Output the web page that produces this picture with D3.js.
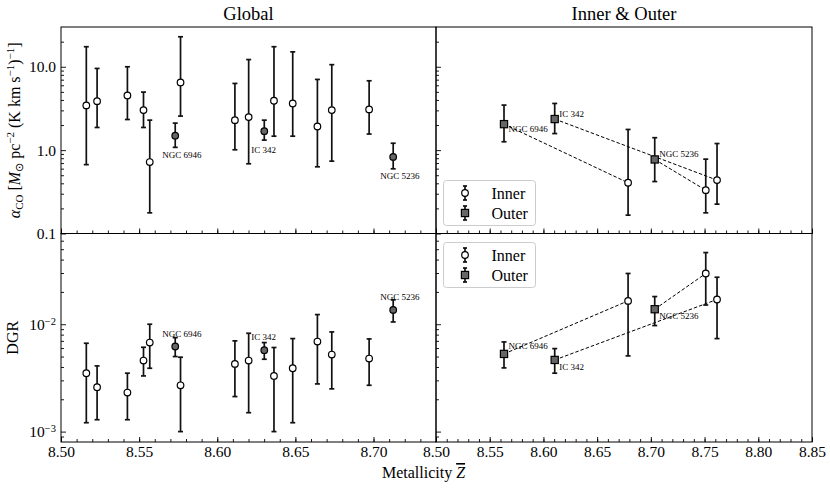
<!DOCTYPE html>
<html>
<head>
<meta charset="utf-8">
<script src="https://cdn.jsdelivr.net/npm/d3@7"></script>
<style>
  body { margin: 0; background: #fff; }
  svg text { font-family: "Liberation Serif", serif; }
</style>
</head>
<body>
<div id="chart"></div>
<script>
// ---- data ----
const globalZ = [8.5162, 8.5231, 8.5425, 8.5528, 8.5568, 8.5731, 8.5765, 8.6113,
  8.6201, 8.6301, 8.6363, 8.6483, 8.6641, 8.6733, 8.6972, 8.7126]
const globalNames = ['', '', '', '', '', 'NGC 6946', '', '', '', 'IC 342', '', '', '', '', '', 'NGC 5236']

const alphaCO = [3.44, 3.87, 4.53, 3.02, 0.72, 1.49, 6.49, 2.29, 2.49, 1.69, 3.91, 3.63, 1.92, 3.02, 3.08, 0.83]
const alphaLo = [0.67, 1.87, 2.33, 1.87, 0.177, 1.08, 2.56, 1.01, 0.686, 1.32, 1.47, 1.47, 0.631, 0.738, 1.56, 0.597]
const alphaHi = [17.4, 9.55, 10.0, 4.97, 2.29, 2.11, 22.9, 6.31, 12.2, 2.29, 17.4, 15.1, 7.05, 10.6, 6.79, 1.21]

const dgr = [0.0035, 0.00259, 0.00231, 0.00459, 0.00675, 0.0062, 0.0027, 0.00427,
  0.00459, 0.00573, 0.0033, 0.00389, 0.0069, 0.00522, 0.00479, 0.0136]
const dgrLo = [0.00121, 0.00129, 0.00129, 0.0033, 0.00389, 0.005, 0.001, 0.00212,
  0.0015, 0.00472, 0.001, 0.00121, 0.00278, 0.0025, 0.0027, 0.0105]
const dgrHi = [0.00665, 0.00409, 0.0035, 0.0061, 0.01, 0.0075, 0.00493, 0.007,
  0.00824, 0.00675, 0.00607, 0.00735, 0.0123, 0.00848, 0.0073, 0.01686]

const ioNames = ['NGC 6946', 'IC 342', 'NGC 5236']
const outerZ = [8.5633, 8.6105, 8.7036]
const innerZ = [8.6788, 8.7616, 8.7511]

const outerAlpha = [2.05, 2.36, 0.773]
const outerAlphaLo = [1.26, 1.58, 0.42]
const outerAlphaHi = [3.47, 3.63, 1.41]
const innerAlpha = [0.406, 0.437, 0.331]
const innerAlphaLo = [0.166, 0.225, 0.177]
const innerAlphaHi = [1.77, 1.2, 0.78]

const outerDGR = [0.00529, 0.00465, 0.0138]
const outerDGRLo = [0.00392, 0.0035, 0.00972]
const outerDGRHi = [0.00684, 0.00593, 0.0181]
const innerDGR = [0.0165, 0.017, 0.0297]
const innerDGRLo = [0.00507, 0.00735, 0.0151]
const innerDGRHi = [0.0297, 0.0274, 0.0465]

const globalTicks = [8.50, 8.55, 8.60, 8.65, 8.70]
const ioTicks = [8.50, 8.55, 8.60, 8.65, 8.70, 8.75, 8.80, 8.85]
const alphaTicks = [0.1, 1, 10]
const dgrTicks = [1e-3, 1e-2]

// ---- layout ----
const width = 830
const height = 488
const colL = [61, 436]
const colR = [436, 812]
const rowT = [27, 233.5]
const rowB = [233.5, 442]
const gray = '#666'
const serif = '"Liberation Serif"'

const svg = d3.select('#chart')
  .append('svg')
  .attr('width', width)
  .attr('height', height)
  .style('font-family', serif)

const xGlobal = d3.scaleLinear().domain([8.50, 8.74]).range(colL)
const xIO = d3.scaleLinear().domain([8.50, 8.85]).range(colR)
const yAlpha = d3.scaleLog().domain([0.1, 30]).range([rowT[1], rowT[0]])
const yDGR = d3.scaleLog().domain([8e-4, 0.07]).range([rowB[1], rowB[0]])

function logMinor(domain) {
  const out = []
  for (let e = -4; e <= 2; e++) {
    for (let m = 2; m <= 9; m++) {
      const v = m * Math.pow(10, e)
      if (v > domain[0] && v < domain[1]) out.push(v)
    }
  }
  return out
}

function minorX(x, step) {
  const [a, b] = x.domain()
  return d3.range(Math.round(a / step), Math.round(b / step) + 1).map(d => +(d * step).toFixed(3))
}

function styleAxis(g) {
  g.attr('font-family', null).style('font-family', serif)
  g.select('.domain').remove()
  g.selectAll('line').attr('stroke', '#000').attr('stroke-width', 0.9)
  g.selectAll('text').style('font-family', serif).style('font-size', '15.5px').attr('fill', '#000')
}

function panel(x, y, opts) {
  const [x0, x1] = x.range()
  const [y1, y0] = y.range()
  const g = svg.append('g')

  // x axis, ticks pointing inward
  const xa = g.append('g').attr('transform', `translate(0,${y1})`)
    .call(d3.axisBottom(x).tickValues(opts.xTicks).tickSize(-5).tickPadding(4)
      .tickFormat(opts.xLabels ? d3.format('.2f') : ''))
  styleAxis(xa)
  const xm = g.append('g').attr('transform', `translate(0,${y1})`)
    .call(d3.axisBottom(x).tickValues(minorX(x, 0.01)).tickSize(-3).tickFormat(''))
  styleAxis(xm)

  // y axis, ticks pointing inward
  const ya = g.append('g').attr('transform', `translate(${x0},0)`)
    .call(d3.axisLeft(y).tickValues(opts.yTicks).tickSize(-5).tickPadding(5)
      .tickFormat(opts.yLabels ? opts.yFormat : ''))
  styleAxis(ya)
  if (opts.yLabels && opts.yPow) {
    ya.selectAll('.tick text').each(function (d) {
      const t = d3.select(this).text('')
      t.append('tspan').text('10')
      t.append('tspan').attr('dy', '-0.45em').style('font-size', '10.5px').text('−' + Math.round(-Math.log10(d)))
    })
  }
  const ym = g.append('g').attr('transform', `translate(${x0},0)`)
    .call(d3.axisLeft(y).tickValues(logMinor(y.domain())).tickSize(-3).tickFormat(''))
  styleAxis(ym)

  g.append('rect')
    .attr('x', x0).attr('y', y0)
    .attr('width', x1 - x0).attr('height', y1 - y0)
    .attr('fill', 'none').attr('stroke', '#000').attr('stroke-width', 1)
  return g
}

function errorBars(g, xs, ys, lo, hi, x, y) {
  const bars = g.append('g').attr('stroke', '#111').attr('stroke-width', 1.7)
  xs.forEach((z, i) => {
    const cx = x(z)
    bars.append('line').attr('x1', cx).attr('x2', cx).attr('y1', y(lo[i])).attr('y2', y(hi[i]))
    bars.append('line').attr('x1', cx - 2.5).attr('x2', cx + 2.5).attr('y1', y(lo[i])).attr('y2', y(lo[i]))
    bars.append('line').attr('x1', cx - 2.5).attr('x2', cx + 2.5).attr('y1', y(hi[i])).attr('y2', y(hi[i]))
  })
}

function circles(g, xs, ys, x, y, fillFn) {
  g.append('g').selectAll('circle')
    .data(xs)
    .join('circle')
    .attr('cx', d => x(d))
    .attr('cy', (d, i) => y(ys[i]))
    .attr('r', 3.3)
    .attr('fill', (d, i) => fillFn(i))
    .attr('stroke', '#000')
    .attr('stroke-width', 1.2)
}

function squares(g, xs, ys, x, y) {
  g.append('g').selectAll('rect')
    .data(xs)
    .join('rect')
    .attr('x', d => x(d) - 3.6)
    .attr('y', (d, i) => y(ys[i]) - 3.6)
    .attr('width', 7.2)
    .attr('height', 7.2)
    .attr('fill', gray)
    .attr('stroke', '#000')
    .attr('stroke-width', 1.2)
}

function labels(g, xs, ys, names, x, y, dx, dys) {
  g.append('g').selectAll('text')
    .data(names)
    .join('text')
    .attr('x', (d, i) => x(xs[i]) + dx)
    .attr('y', (d, i) => y(ys[i]) + dys[i])
    .attr('fill', '#000')
    .style('font-family', serif)
    .style('font-size', '9px')
    .text(d => d)
}

function dashed(g, x, y, ax, ay, bx, by) {
  ax.forEach((d, i) => {
    g.append('line')
      .attr('x1', x(ax[i])).attr('y1', y(ay[i]))
      .attr('x2', x(bx[i])).attr('y2', y(by[i]))
      .attr('stroke', '#000').attr('stroke-width', 1)
      .attr('stroke-dasharray', '3.5,2')
  })
}

function legend(px, py) {
  const g = svg.append('g').attr('transform', `translate(${px},${py})`)
  g.append('rect').attr('width', 92).attr('height', 45).attr('rx', 3)
    .attr('fill', '#fff').attr('fill-opacity', 0.8).attr('stroke', '#ccc').attr('stroke-width', 1)
  const items = [{ label: 'Inner', shape: 'circle', y: 12.5 }, { label: 'Outer', shape: 'square', y: 32.5 }]
  items.forEach(it => {
    const cx = 21.5
    g.append('line').attr('x1', cx).attr('x2', cx).attr('y1', it.y - 7).attr('y2', it.y + 7)
      .attr('stroke', '#111').attr('stroke-width', 1.7)
    ;[it.y - 7, it.y + 7].forEach(v => g.append('line').attr('x1', cx - 2).attr('x2', cx + 2)
      .attr('y1', v).attr('y2', v).attr('stroke', '#111').attr('stroke-width', 1.7))
    if (it.shape === 'circle') {
      g.append('circle').attr('cx', cx).attr('cy', it.y).attr('r', 3.3)
        .attr('fill', '#fff').attr('stroke', '#000').attr('stroke-width', 1.2)
    } else {
      g.append('rect').attr('x', cx - 3.6).attr('y', it.y - 3.6).attr('width', 7.2).attr('height', 7.2)
        .attr('fill', gray).attr('stroke', '#000').attr('stroke-width', 1.2)
    }
    g.append('text').attr('x', 48).attr('y', it.y + 5.5)
      .style('font-family', serif).style('font-size', '16px').text(it.label)
  })
}

const isNamed = i => globalNames[i] !== ''
const fillGlobal = i => (isNamed(i) ? gray : '#fff')
const namedIdx = globalNames.map((d, i) => i).filter(isNamed)

// ---- top-left: global alpha_CO ----
const pTL = panel(xGlobal, yAlpha, { xTicks: globalTicks, xLabels: false, yTicks: alphaTicks, yLabels: true, yFormat: d3.format('.1f') })
errorBars(pTL, globalZ, alphaCO, alphaLo, alphaHi, xGlobal, yAlpha)
circles(pTL, globalZ, alphaCO, xGlobal, yAlpha, fillGlobal)
labels(pTL, namedIdx.map(i => globalZ[i]), namedIdx.map(i => alphaCO[i]), namedIdx.map(i => globalNames[i]),
  xGlobal, yAlpha, -13, [22, 22, 22])

// ---- bottom-left: global DGR ----
const pBL = panel(xGlobal, yDGR, { xTicks: globalTicks, xLabels: true, yTicks: dgrTicks, yLabels: true, yPow: true, yFormat: d => d })
errorBars(pBL, globalZ, dgr, dgrLo, dgrHi, xGlobal, yDGR)
circles(pBL, globalZ, dgr, xGlobal, yDGR, fillGlobal)
labels(pBL, namedIdx.map(i => globalZ[i]), namedIdx.map(i => dgr[i]), namedIdx.map(i => globalNames[i]),
  xGlobal, yDGR, -13, [-10, -10, -10])

// ---- top-right: inner & outer alpha_CO ----
const pTR = panel(xIO, yAlpha, { xTicks: ioTicks, xLabels: false, yTicks: alphaTicks, yLabels: false })
dashed(pTR, xIO, yAlpha, outerZ, outerAlpha, innerZ, innerAlpha)
errorBars(pTR, innerZ, innerAlpha, innerAlphaLo, innerAlphaHi, xIO, yAlpha)
errorBars(pTR, outerZ, outerAlpha, outerAlphaLo, outerAlphaHi, xIO, yAlpha)
circles(pTR, innerZ, innerAlpha, xIO, yAlpha, () => '#fff')
squares(pTR, outerZ, outerAlpha, xIO, yAlpha)
labels(pTR, outerZ, outerAlpha, ioNames, xIO, yAlpha, 4.5, [8, -2, -2])
legend(443.5, 180.5)

// ---- bottom-right: inner & outer DGR ----
const pBR = panel(xIO, yDGR, { xTicks: ioTicks, xLabels: true, yTicks: dgrTicks, yLabels: false })
dashed(pBR, xIO, yDGR, outerZ, outerDGR, innerZ, innerDGR)
errorBars(pBR, innerZ, innerDGR, innerDGRLo, innerDGRHi, xIO, yDGR)
errorBars(pBR, outerZ, outerDGR, outerDGRLo, outerDGRHi, xIO, yDGR)
circles(pBR, innerZ, innerDGR, xIO, yDGR, () => '#fff')
squares(pBR, outerZ, outerDGR, xIO, yDGR)
labels(pBR, outerZ, outerDGR, ioNames, xIO, yDGR, 4.5, [-5, 10, 10])
legend(443.5, 242.5)

// ---- titles and axis labels ----
svg.append('text').attr('x', d3.mean(colL)).attr('y', 19.5).attr('text-anchor', 'middle')
  .style('font-family', serif).style('font-size', '18.5px').text('Global')
svg.append('text').attr('x', d3.mean(colR)).attr('y', 19.5).attr('text-anchor', 'middle')
  .style('font-family', serif).style('font-size', '18.5px').text('Inner & Outer')

const xl = svg.append('text').attr('x', 423.5).attr('y', 478).attr('text-anchor', 'middle')
  .style('font-family', serif).style('font-size', '16px')
xl.append('tspan').text('Metallicity ')
xl.append('tspan').style('font-style', 'italic').style('text-decoration', 'overline').text('Z')

const yl = svg.append('text').attr('transform', `translate(20,${d3.mean(rowT)}) rotate(-90)`)
  .attr('text-anchor', 'middle').style('font-family', serif).style('font-size', '16px')
yl.append('tspan').style('font-style', 'italic').text('α')
yl.append('tspan').attr('dy', 3).style('font-size', '11px').text('CO')
yl.append('tspan').attr('dy', -3).text(' [')
yl.append('tspan').style('font-style', 'italic').text('M')
yl.append('tspan').attr('dy', 3).style('font-size', '11px').text('⊙')
yl.append('tspan').attr('dy', -3).text(' pc')
yl.append('tspan').attr('dy', -6).style('font-size', '11px').text('−2')
yl.append('tspan').attr('dy', 6).text(' (K km s')
yl.append('tspan').attr('dy', -6).style('font-size', '11px').text('−1')
yl.append('tspan').attr('dy', 6).text(')')
yl.append('tspan').attr('dy', -6).style('font-size', '11px').text('−1')
yl.append('tspan').attr('dy', 6).text(']')

svg.append('text').attr('transform', `translate(17.5,${d3.mean(rowB)}) rotate(-90)`)
  .attr('text-anchor', 'middle').style('font-family', serif).style('font-size', '16px').text('DGR')
</script>
</body>
</html>
